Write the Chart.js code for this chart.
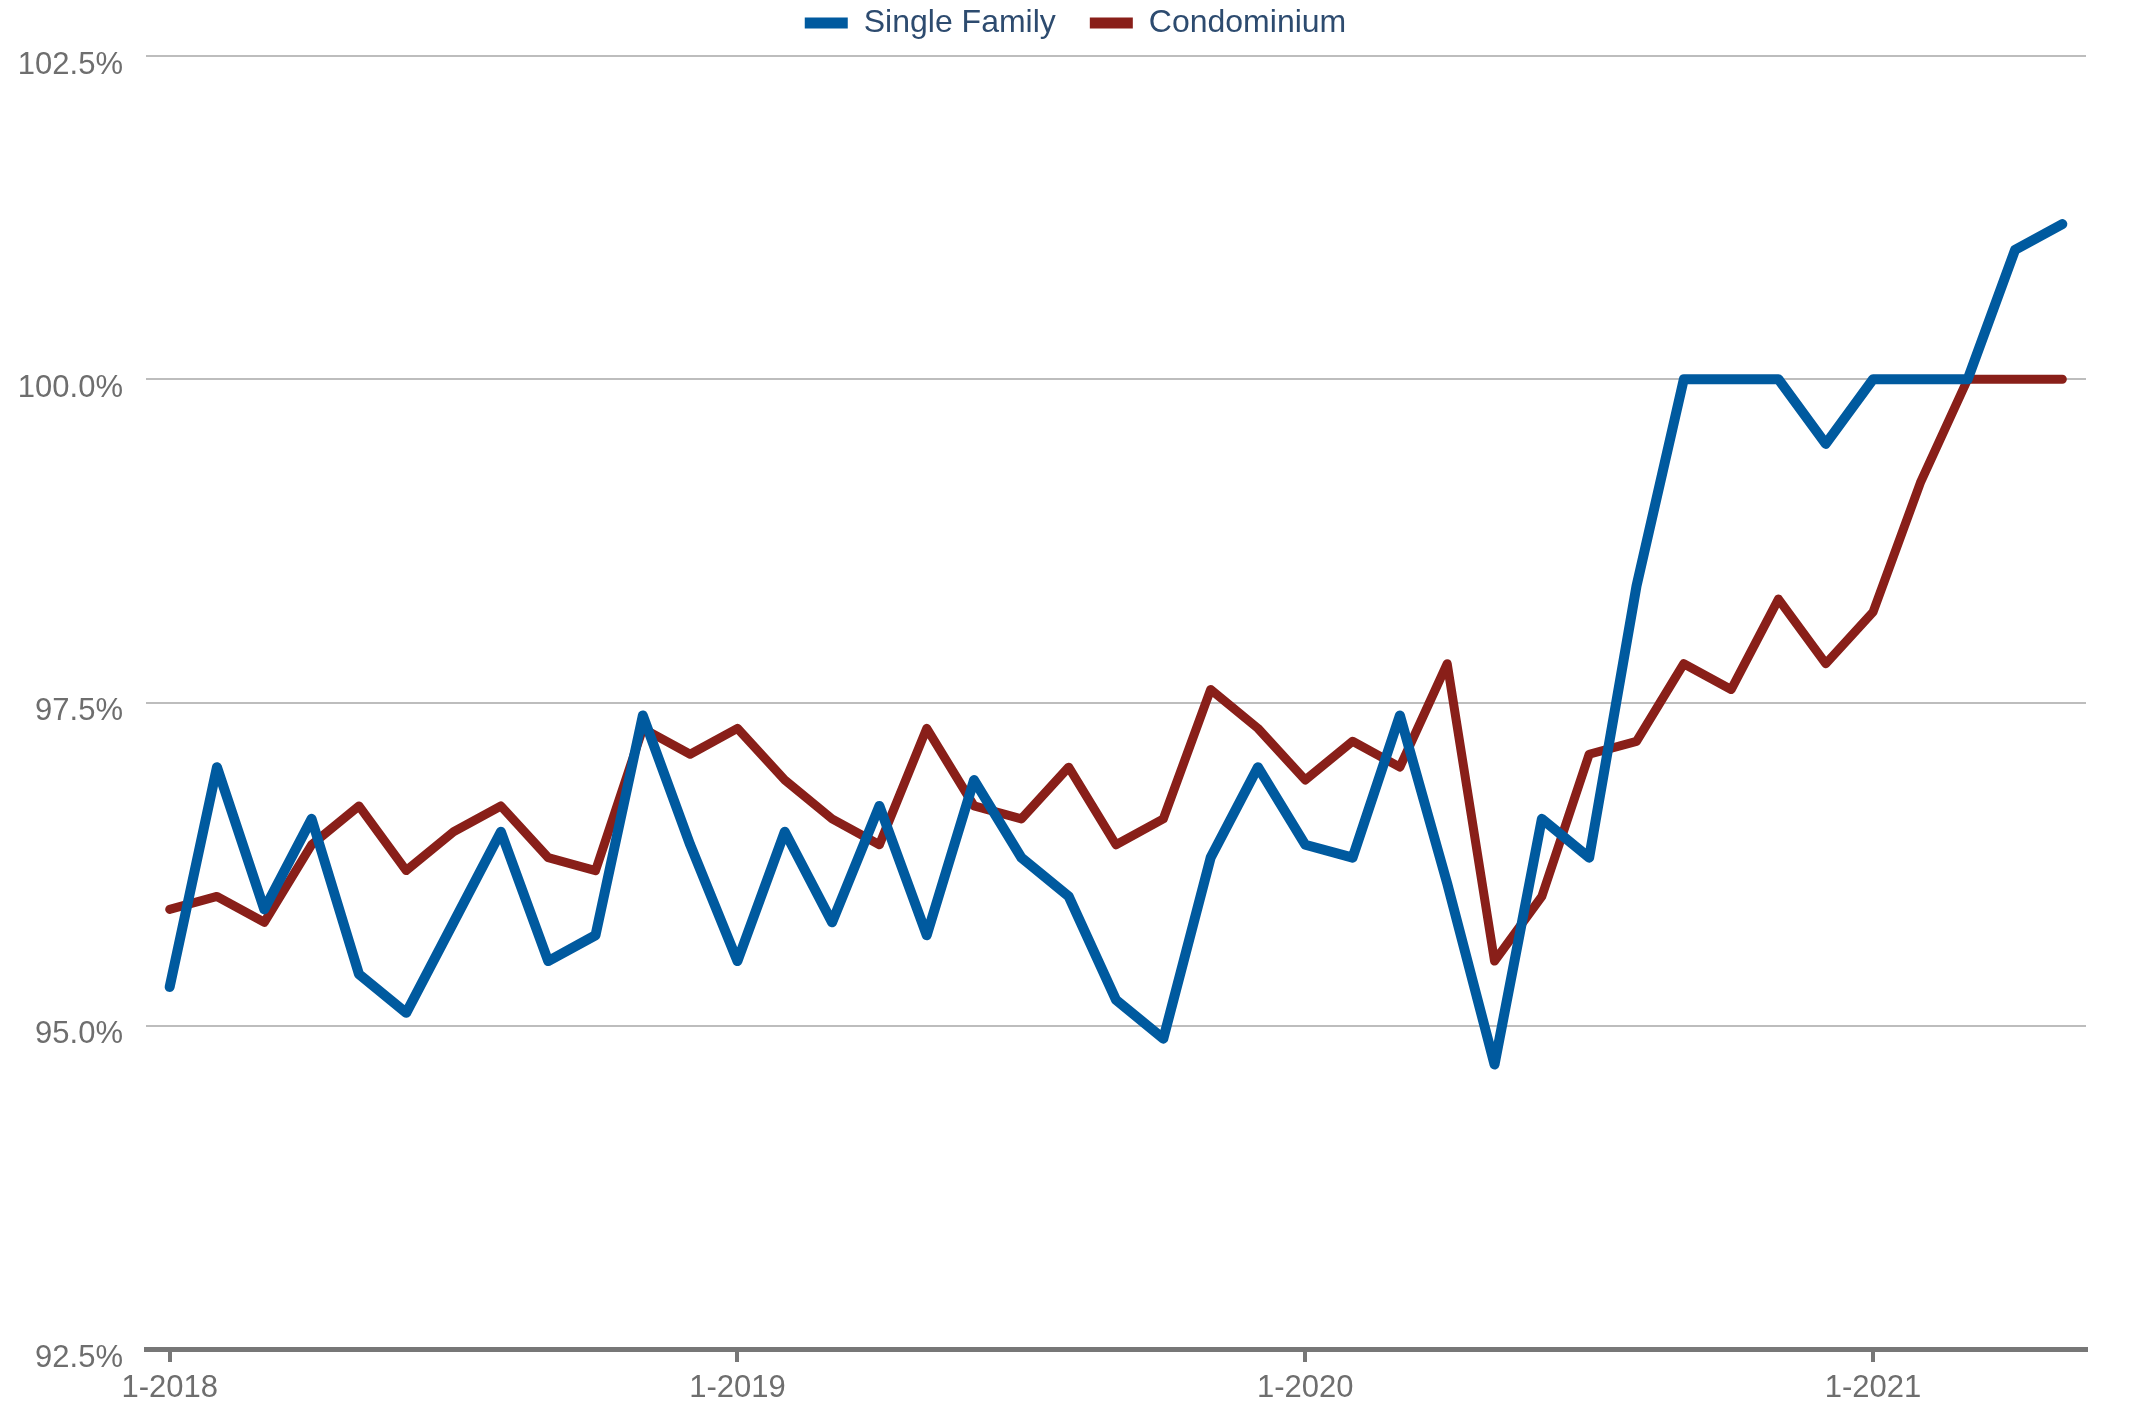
<!DOCTYPE html>
<html>
<head>
<meta charset="utf-8">
<script src="https://cdn.jsdelivr.net/npm/chart.js@4.4.1/dist/chart.umd.min.js"></script>
<style>
  body { margin: 0; background: #fff; }
  #wrap { width: 2151px; height: 1408px; position: relative; }
</style>
</head>
<body>
<div id="wrap"><canvas id="ratioChart"></canvas></div>
<script>
//months on the x axis (month-year)
const months = [
  '1-2018','2-2018','3-2018','4-2018','5-2018','6-2018','7-2018','8-2018','9-2018','10-2018','11-2018','12-2018',
  '1-2019','2-2019','3-2019','4-2019','5-2019','6-2019','7-2019','8-2019','9-2019','10-2019','11-2019','12-2019',
  '1-2020','2-2020','3-2020','4-2020','5-2020','6-2020','7-2020','8-2020','9-2020','10-2020','11-2020','12-2020',
  '1-2021','2-2021','3-2021','4-2021','5-2021'
];

//percent of list price received
const singleFamily = [
  95.3, 97.0, 95.9, 96.6, 95.4, 95.1, 95.8, 96.5, 95.5, 95.7, 97.4, 96.4,
  95.5, 96.5, 95.8, 96.7, 95.7, 96.9, 96.3, 96.0, 95.2, 94.9, 96.3, 97.0,
  96.4, 96.3, 97.4, 96.1, 94.7, 96.6, 96.3, 98.4, 100.0, 100.0, 100.0, 99.5,
  100.0, 100.0, 100.0, 101.0, 101.2
];
const condominium = [
  95.9, 96.0, 95.8, 96.4, 96.7, 96.2, 96.5, 96.7, 96.3, 96.2, 97.3, 97.1,
  97.3, 96.9, 96.6, 96.4, 97.3, 96.7, 96.6, 97.0, 96.4, 96.6, 97.6, 97.3,
  96.9, 97.2, 97.0, 97.8, 95.5, 96.0, 97.1, 97.2, 97.8, 97.6, 98.3, 97.8,
  98.2, 99.2, 100.0, 100.0, 100.0
];

const yMin = 92.5;
const yMax = 102.5;
const yStep = 2.5;

const fontFam = '"Liberation Sans", Arial, Helvetica, sans-serif';

//stretch the legend box so the plot starts where it should, and centre it on the whole canvas
const legendFix = {
  id: 'legendFix',
  beforeInit(chart) {
    const origFit = chart.legend.fit;
    chart.legend.fit = function() {
      origFit.call(this);
      this.height = 83;
    };
  },
  beforeDraw(chart) {
    chart.legend.left = 0;
    chart.legend.right = chart.width;
    chart.legend.width = chart.width;
  }
};

const ctx = document.getElementById('ratioChart');
new Chart(ctx, {
  type: 'line',
  data: {
    labels: months,
    datasets: [
      {label: 'Single Family', data: singleFamily, borderColor: '#005a9f', backgroundColor: '#005a9f', borderWidth: 10},
      {label: 'Condominium', data: condominium, borderColor: '#891f19', backgroundColor: '#891f19', borderWidth: 9}
    ]
  },
  options: {
    responsive: true,
    maintainAspectRatio: false,
    animation: false,
    devicePixelRatio: 1,
    layout: {padding: {top: -27, left: 0, right: 65, bottom: 0}},
    elements: {
      point: {radius: 0, hoverRadius: 0},
      line: {tension: 0, borderJoinStyle: 'round', borderCapStyle: 'round'}
    },
    scales: {
      x: {
        offset: true, //half a month of room each side
        afterFit: s => { s.height = 59; },
        grid: {
          drawOnChartArea: false,
          drawTicks: true,
          tickLength: 13,
          lineWidth: 4,
          color: c => (c.tick && c.tick.label) ? '#777777' : 'rgba(0,0,0,0)'
        },
        border: {display: true, color: '#777777', width: 5},
        ticks: {
          autoSkip: false,
          maxRotation: 0,
          padding: 8,
          color: '#6e6e6e',
          font: {size: 31, family: fontFam},
          callback: function(v) {
            const lab = this.getLabelForValue(v);
            return lab.startsWith('1-') ? lab : '';
          }
        }
      },
      y: {
        min: yMin,
        max: yMax,
        grid: {color: '#bdbdbd', lineWidth: 2, drawTicks: false},
        border: {display: false},
        afterFit: s => { s.width = 146; },
        ticks: {
          stepSize: yStep,
          padding: 23,
          labelOffset: 9,
          color: '#6e6e6e',
          font: {size: 31, family: fontFam},
          callback: v => v.toFixed(1) + '%'
        }
      }
    },
    plugins: {
      legend: {
        position: 'top',
        labels: {
          boxWidth: 43,
          boxHeight: 11,
          padding: 34,
          color: '#2d4b6f',
          font: {size: 32, family: fontFam},
          generateLabels: chart => Chart.defaults.plugins.legend.labels.generateLabels(chart)
            .map(item => Object.assign(item, {lineWidth: 0}))
        }
      },
      tooltip: {enabled: false}
    }
  },
  plugins: [legendFix]
});
</script>
</body>
</html>
